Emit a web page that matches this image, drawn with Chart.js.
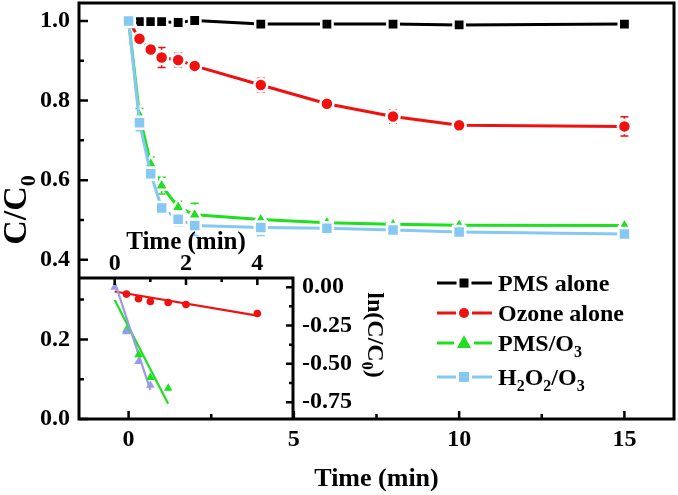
<!DOCTYPE html>
<html>
<head>
<meta charset="utf-8">
<script src="https://cdn.jsdelivr.net/npm/chart.js@4.4.0/dist/chart.umd.min.js"></script>
<style>
  body { margin: 0; background: #fff; }
  #wrap { position: relative; width: 678px; height: 495px; }
  canvas { position: absolute; left: 0; top: 0; }
</style>
</head>
<body>
<div id="wrap">
  <canvas id="main" width="678" height="495"></canvas>
  <canvas id="inset" width="678" height="495"></canvas>
</div>
<script>
// main plot: C/C0 vs time
const times = [0, 0.33, 0.67, 1, 1.5, 2, 4, 6, 8, 10, 15];
const pmsAlone = [1.0, 0.998, 0.998, 0.998, 0.996, 1.001, 0.992, 0.992, 0.992, 0.990, 0.992];
const ozoneAlone = [1.0, 0.955, 0.928, 0.908, 0.902, 0.887, 0.839, 0.792, 0.760, 0.738, 0.735];
const pmsO3 = [1.0, 0.763, 0.641, 0.586, 0.532, 0.513, 0.501, 0.493, 0.489, 0.487, 0.486];
const h2o2O3 = [1.0, 0.744, 0.616, 0.530, 0.502, 0.486, 0.481, 0.479, 0.475, 0.470, 0.465];
const ozoneErr = [0, 0.006, 0.013, 0.025, 0.017, 0.013, 0.017, 0.006, 0.017, 0.006, 0.024];
const pmsO3Err = [0, 0.017, 0.017, 0.021, 0.015, 0.029, 0.008, 0.006, 0.006, 0.005, 0.006];
const h2o2O3Err = [0, 0.02, 0.01, 0.012, 0.017, 0.025, 0.02, 0.008, 0.008, 0.006, 0.006];
const xMainTicks = [0, 5, 10, 15];
const yMainTicks = [0, 0.2, 0.4, 0.6, 0.8, 1.0];

// inset: ln(C/C0) vs time, with linear fits
const lnOzoneT = [0.33, 0.67, 1, 1.5, 2, 4];
const lnOzone = [-0.045, -0.075, -0.093, -0.10, -0.113, -0.172];
const lnPmsO3T = [0.33, 0.67, 1, 1.5];
const lnPmsO3 = [-0.28, -0.44, -0.59, -0.66];
const lnH2o2T = [0, 0.33, 0.67, 1];
const lnH2o2 = [0, -0.29, -0.485, -0.64];
const fitOzoneT = [0, 4];
const fitOzone = [-0.028, -0.186];
const fitPmsO3T = [0, 1.5];
const fitPmsO3 = [-0.084, -0.76];
const fitH2o2T = [0, 1];
const fitH2o2 = [0.034, -0.67];
const xInsetTicks = [0, 2, 4];
const yInsetTicks = [0, -0.25, -0.5, -0.75];

const BLACK = '#000000', RED = '#f01010', GREEN = '#1ee01e', BLUE = '#85c8f2', PURPLE = '#9a9ae8';
const FAM = '"Liberation Serif", "Times New Roman", serif';

Chart.defaults.font.family = FAM;
Chart.defaults.font.weight = 'bold';
Chart.defaults.color = '#000';

const pts = (xs, ys) => xs.map((x, i) => ({ x: x, y: ys[i] }));

// text with subscripts: parts = [[text, isSub], ...]
function richText(ctx, parts, x, y, size, rot, align) {
  ctx.save();
  ctx.translate(x, y);
  ctx.rotate(rot);
  ctx.textBaseline = 'alphabetic';
  ctx.textAlign = 'left';
  const subSize = Math.round(size * 0.66);
  let w = 0;
  parts.forEach(p => {
    ctx.font = 'bold ' + (p[1] ? subSize : size) + 'px ' + FAM;
    w += ctx.measureText(p[0]).width;
  });
  let cx = align === 'center' ? -w / 2 : 0;
  const capMid = size * 0.33;
  parts.forEach(p => {
    ctx.font = 'bold ' + (p[1] ? subSize : size) + 'px ' + FAM;
    ctx.fillStyle = '#000';
    ctx.fillText(p[0], cx, capMid + (p[1] ? size * 0.25 : 0));
    cx += ctx.measureText(p[0]).width;
  });
  ctx.restore();
}

function marker(ctx, style, x, y, r, color) {
  ctx.fillStyle = color;
  ctx.beginPath();
  if (style === 'rect') ctx.rect(x - r, y - r, 2 * r, 2 * r);
  else if (style === 'circle') ctx.arc(x, y, r, 0, Math.PI * 2);
  else {
    ctx.moveTo(x, y - r * 1.1);
    ctx.lineTo(x + r, y + r * 0.7);
    ctx.lineTo(x - r, y + r * 0.7);
    ctx.closePath();
  }
  ctx.fill();
}

function ticksOn(ctx, scale, values, len, side, area) {
  ctx.beginPath();
  values.forEach(v => {
    const p = scale.getPixelForValue(v);
    if (side === 'left') { ctx.moveTo(area.left, p); ctx.lineTo(area.left + len, p); }
    if (side === 'right') { ctx.moveTo(area.right, p); ctx.lineTo(area.right - len, p); }
    if (side === 'bottom') { ctx.moveTo(p, area.bottom); ctx.lineTo(p, area.bottom - len); }
    if (side === 'top') { ctx.moveTo(p, area.top); ctx.lineTo(p, area.top + len); }
  });
  ctx.stroke();
}

const legendItems = [
  { parts: [['PMS alone', 0]], color: BLACK, style: 'rect', r: 4.5 },
  { parts: [['Ozone alone', 0]], color: RED, style: 'circle', r: 5 },
  { parts: [['PMS/O', 0], ['3', 1]], color: GREEN, style: 'triangle', r: 7 },
  { parts: [['H', 0], ['2', 1], ['O', 0], ['2', 1], ['/O', 0], ['3', 1]], color: BLUE, style: 'rect', r: 5 }
];

const mainDeco = {
  id: 'mainDeco',
  beforeDatasetsDraw(chart) {
    const ctx = chart.ctx, xs = chart.scales.x, ys = chart.scales.y;
    chart.data.datasets.forEach(ds => {
      if (!ds.errors) return;
      ctx.save();
      ctx.strokeStyle = ds.borderColor;
      ctx.lineWidth = 1.5;
      ds.data.forEach((d, i) => {
        const e = ds.errors[i];
        if (!e) return;
        const px = xs.getPixelForValue(d.x);
        const top = ys.getPixelForValue(d.y + e), bot = ys.getPixelForValue(d.y - e);
        ctx.beginPath();
        ctx.moveTo(px, top); ctx.lineTo(px, bot);
        ctx.moveTo(px - 4, top); ctx.lineTo(px + 4, top);
        ctx.moveTo(px - 4, bot); ctx.lineTo(px + 4, bot);
        ctx.stroke();
      });
      ctx.restore();
    });
  },
  afterDraw(chart) {
    const ctx = chart.ctx, a = chart.chartArea;
    ctx.save();
    ctx.strokeStyle = '#000';
    ctx.lineWidth = 3;
    ctx.strokeRect(a.left, a.top, a.right - a.left, a.bottom - a.top);
    ctx.lineWidth = 2.5;
    ticksOn(ctx, chart.scales.y, yMainTicks, 9, 'left', a);
    ticksOn(ctx, chart.scales.y, [0.1, 0.3, 0.5, 0.7, 0.9], 5, 'left', a);
    ticksOn(ctx, chart.scales.x, xMainTicks, 8, 'bottom', a);
    ticksOn(ctx, chart.scales.x, [2.5, 7.5, 12.5], 5, 'bottom', a);

    // legend
    const rows = [283, 313, 343, 377];
    legendItems.forEach((it, i) => {
      const y = rows[i], mx = 464;
      ctx.strokeStyle = it.color;
      ctx.lineWidth = 3;
      ctx.beginPath();
      ctx.moveTo(437, y); ctx.lineTo(mx - it.r - 3, y);
      ctx.moveTo(mx + it.r + 3, y); ctx.lineTo(492, y);
      ctx.stroke();
      marker(ctx, it.style, mx, y, it.r, it.color);
      richText(ctx, it.parts, 498, y, 24, 0, 'left');
    });

    // y title C/C0
    richText(ctx, [['C/C', 0], ['0', 1]], 15, 210, 34, -Math.PI / 2, 'center');
    ctx.restore();
  }
};

const mainSeries = [
  { vals: h2o2O3, err: h2o2O3Err, color: BLUE, style: 'rect', r: 8.5 },
  { vals: pmsO3, err: pmsO3Err, color: GREEN, style: 'triangle', r: 8 },
  { vals: ozoneAlone, err: ozoneErr, color: RED, style: 'circle', r: 6.5 },
  { vals: pmsAlone, err: null, color: BLACK, style: 'rect', r: 8 }
];

new Chart(document.getElementById('main'), {
  type: 'line',
  data: {
    datasets: mainSeries.map(s => ({
      data: pts(times, s.vals),
      errors: s.err,
      borderColor: s.color,
      backgroundColor: s.color,
      borderWidth: 3,
      pointStyle: s.style,
      pointRadius: s.r,
      pointBackgroundColor: s.color,
      pointBorderColor: '#ffffff',
      pointBorderWidth: 2.5,
      tension: 0
    }))
  },
  options: {
    responsive: false,
    animation: false,
    devicePixelRatio: 1,
    layout: { autoPadding: false, padding: { top: 3, right: 4, left: 0, bottom: 0 } },
    plugins: { legend: { display: false }, tooltip: { enabled: false } },
    scales: {
      x: {
        type: 'linear', position: 'bottom', min: -1.5, max: 16.5,
        afterBuildTicks: s => { s.ticks = xMainTicks.map(v => ({ value: v })); },
        afterFit: s => { s.height = 76; s.paddingLeft = 0; s.paddingRight = 0; },
        grid: { display: false, drawTicks: false },
        border: { display: false },
        ticks: { padding: 6, font: { size: 24, weight: 'bold' }, maxRotation: 0, autoSkip: false },
        title: { display: true, text: 'Time (min)', font: { size: 26, weight: 'bold' }, padding: { top: 0, bottom: 0 } }
      },
      y: {
        type: 'linear', position: 'left', min: 0, max: 1.045,
        afterBuildTicks: s => { s.ticks = yMainTicks.map(v => ({ value: v })); },
        afterFit: s => { s.width = 79; s.paddingTop = 0; s.paddingBottom = 0; },
        grid: { display: false, drawTicks: false },
        border: { display: false },
        ticks: { padding: 9, font: { size: 24, weight: 'bold' }, callback: v => v.toFixed(1) }
      }
    }
  },
  plugins: [mainDeco]
});

const insetDeco = {
  id: 'insetDeco',
  afterDraw(chart) {
    const ctx = chart.ctx, a = chart.chartArea;
    ctx.save();
    ctx.strokeStyle = '#000';
    ctx.lineWidth = 3;
    ctx.beginPath();
    ctx.moveTo(a.left, a.top); ctx.lineTo(a.right, a.top); ctx.lineTo(a.right, a.bottom + 1);
    ctx.stroke();
    ctx.lineWidth = 2.5;
    ticksOn(ctx, chart.scales.x, xInsetTicks, 7, 'top', a);
    ticksOn(ctx, chart.scales.x, [1, 3], 4, 'top', a);
    ticksOn(ctx, chart.scales.y, yInsetTicks, 7, 'right', a);
    ticksOn(ctx, chart.scales.y, [-0.125, -0.375, -0.625], 4, 'right', a);
    richText(ctx, [['ln(C/C', 0], ['0', 1], [')', 0]], 376, 335, 24, Math.PI / 2, 'center');
    ctx.restore();
  }
};

const pointSet = (xs, ys, color, style, r) => ({
  data: pts(xs, ys), showLine: false, pointStyle: style, pointRadius: r,
  pointBackgroundColor: color, pointBorderColor: color, pointBorderWidth: 0, borderColor: color
});
const fitSet = (xs, ys, color) => ({
  data: pts(xs, ys), borderColor: color, borderWidth: 2.2, pointRadius: 0, tension: 0
});

new Chart(document.getElementById('inset'), {
  type: 'line',
  data: {
    datasets: [
      pointSet(lnH2o2T, lnH2o2, PURPLE, 'triangle', 5),
      pointSet(lnOzoneT, lnOzone, RED, 'circle', 3.8),
      pointSet(lnPmsO3T, lnPmsO3, GREEN, 'triangle', 5),
      fitSet(fitH2o2T, fitH2o2, PURPLE),
      fitSet(fitPmsO3T, fitPmsO3, GREEN),
      fitSet(fitOzoneT, fitOzone, RED)
    ]
  },
  options: {
    responsive: false,
    animation: false,
    devicePixelRatio: 1,
    layout: { autoPadding: false, padding: { top: 226, right: 285, left: 79, bottom: 76 } },
    plugins: { legend: { display: false }, tooltip: { enabled: false } },
    scales: {
      x: {
        type: 'linear', position: 'top', min: -1, max: 5,
        afterBuildTicks: s => { s.ticks = xInsetTicks.map(v => ({ value: v })); },
        afterFit: s => { s.height = 52; s.paddingLeft = 0; s.paddingRight = 0; },
        grid: { display: false, drawTicks: false },
        border: { display: false },
        ticks: { padding: 0, font: { size: 24, weight: 'bold' }, maxRotation: 0, autoSkip: false },
        title: { display: true, text: 'Time (min)', font: { size: 25, weight: 'bold' }, padding: { top: 2, bottom: 0 } }
      },
      y: {
        type: 'linear', position: 'right', min: -0.86, max: 0.06,
        afterBuildTicks: s => { s.ticks = yInsetTicks.map(v => ({ value: v })); },
        afterFit: s => { s.width = 100; s.paddingTop = 0; s.paddingBottom = 0; },
        grid: { display: false, drawTicks: false },
        border: { display: false },
        ticks: { padding: 9, font: { size: 24, weight: 'bold' }, callback: v => v.toFixed(2) }
      }
    }
  },
  plugins: [insetDeco]
});
</script>
</body>
</html>
